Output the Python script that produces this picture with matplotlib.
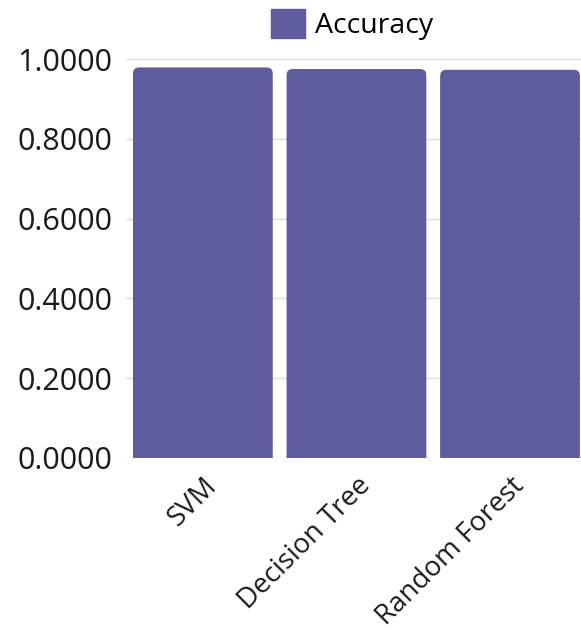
import numpy as np
import matplotlib.pyplot as plt
from matplotlib.patches import FancyBboxPatch, Patch

models = ["SVM", "Decision Tree", "Random Forest"]
accuracy = [0.979, 0.975, 0.973]
barColor = "#5f5b9f"

plt.rcParams["font.family"] = ["Open Sans", "DejaVu Sans"]

fig = plt.figure(figsize=(5.81, 6.35), dpi=100)
ax = fig.add_axes([0.217, 0.279, 0.793, 0.628])

x = np.arange(len(models))
bars = ax.bar(x, accuracy, width=0.91, color=barColor)
# round the tops: rounded patch starts below zero so the axes clip the bottom corners square
for bar in bars:
    bar.set_visible(False)
    ax.add_patch(FancyBboxPatch((bar.get_x(), -0.05), bar.get_width(), bar.get_height() + 0.05,
                                boxstyle="round,pad=0,rounding_size=0.04", mutation_aspect=0.375,
                                facecolor=barColor, edgecolor="none", zorder=3))

ax.set_xlim(-0.5, 2.5)
ax.set_ylim(0, 1.0)
ax.set_yticks(np.arange(0, 1.01, 0.2))
ax.set_yticklabels([f"{v:.4f}" for v in np.arange(0, 1.01, 0.2)], fontsize=22, color="#1a1a1a")
ax.set_xticks(x)
ax.set_xticklabels(models, rotation=45, ha="right", rotation_mode="anchor", fontsize=20,
                   color="#1a1a1a")
ax.tick_params(length=0, pad=10)
ax.yaxis.grid(True, color="#dddddd", linewidth=1)
ax.set_axisbelow(True)
for spine in ax.spines.values():
    spine.set_visible(False)

fig.legend(handles=[Patch(color=barColor, label="Accuracy")], loc="center",
           bbox_to_anchor=(0.606, 0.962), frameon=False, fontsize=20.5, handlelength=1.2,
           handleheight=1.2, handletextpad=0.35)

fig.savefig("out.png", dpi=100)
